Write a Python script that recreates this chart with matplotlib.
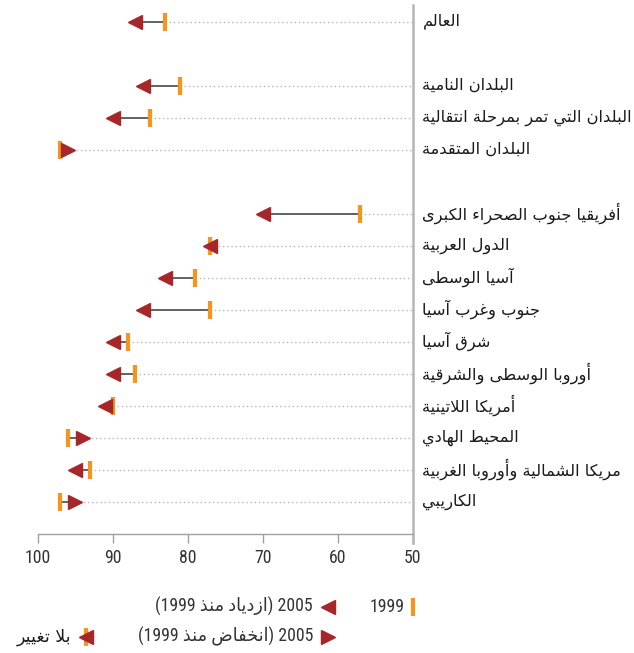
import re
import matplotlib
matplotlib.use("Agg")
import matplotlib.pyplot as plt
from matplotlib import font_manager
from matplotlib.lines import Line2D

# data: net enrolment, 1999 vs 2005
regions = ["العالم",
           "البلدان النامية", "البلدان التي تمر بمرحلة انتقالية", "البلدان المتقدمة",
           "أفريقيا جنوب الصحراء الكبرى", "الدول العربية", "آسيا الوسطى",
           "جنوب وغرب آسيا", "شرق آسيا", "أوروبا الوسطى والشرقية",
           "أمريكا اللاتينية", "المحيط الهادي", "مريكا الشمالية وأوروبا الغربية",
           "الكاريبي"]
group = [0, 1, 1, 1, 2, 2, 2, 2, 2, 2, 2, 2, 2, 2]
v1999 = [83, 81, 85, 97, 57, 77, 79, 77, 88, 87, 90, 96, 93, 97]
v2005 = [87, 86, 90, 96, 70, 77, 83, 86, 90, 90, 91, 94, 95, 95]
xticks = [100, 90, 80, 70, 60, 50]

ORANGE = "#F7931E"
RED = "#A6262A"
AR_FONT = ["DejaVu Sans"]

# the numbers are set in a narrow face; take whichever narrow one is installed
names = {f.name for f in font_manager.fontManager.ttflist}
narrow = [n for n in ["Liberation Sans Narrow", "Roboto Condensed", "DejaVu Sans Condensed"]
          if n in names]
condensed_dejavu = any(f.name == "DejaVu Sans" and f.stretch == "condensed"
                       for f in font_manager.fontManager.ttflist)
if narrow:
    NUM = dict(family=[narrow[0], "DejaVu Sans"], fontsize=12.8)
elif condensed_dejavu:
    NUM = dict(family=["DejaVu Sans"], fontstretch="condensed", fontsize=12)
else:
    NUM = dict(family=["Roboto", "DejaVu Sans"], fontsize=11.5)

# matplotlib does no Arabic shaping, so pick presentation forms by hand
_letters = "ءآأؤإئابةتثجحخدذرزسشصضطظعغفقكلمنهوىي"
_nforms = [1, 2, 2, 2, 2, 4, 2, 4, 2, 4, 4, 4, 4, 4, 2, 2, 2, 2, 4, 4,
           4, 4, 4, 4, 4, 4, 4, 4, 4, 4, 4, 4, 4, 2, 2, 4]
FORMS = {}
cp = 0xFE80
for ch, n in zip(_letters, _nforms):
    FORMS[ch] = (cp, n)
    cp += n
LAM_ALEF = {"آ": 0xFEF5, "أ": 0xFEF7, "إ": 0xFEF9, "ا": 0xFEFB}


def ar(text):
    res = []
    i, n = 0, len(text)
    while i < n:
        c = text[i]
        if c not in FORMS:
            res.append(c)
            i += 1
            continue
        prev = text[i - 1] if i > 0 else ""
        link_prev = FORMS.get(prev, (0, 1))[1] == 4 and FORMS[c][1] > 1
        if c == "ل" and i + 1 < n and text[i + 1] in LAM_ALEF:
            res.append(chr(LAM_ALEF[text[i + 1]] + int(link_prev)))
            i += 2
            continue
        nxt = text[i + 1] if i + 1 < n else ""
        base, k = FORMS[c]
        link_next = k == 4 and FORMS.get(nxt, (0, 1))[1] > 1
        if k == 1:
            f = 0
        elif k == 2:
            f = int(link_prev)
        else:
            f = [[0, 2], [1, 3]][link_prev][link_next]
        res.append(chr(base + f))
        i += 1
    s = "".join(res)[::-1]
    s = re.sub(r"[0-9A-Za-z]+", lambda m: m.group(0)[::-1], s)
    return s.translate(str.maketrans("()", ")("))


fig = plt.figure(figsize=(6.34, 6.53), dpi=100)
ax = fig.add_axes([37.7 / 634, 1 - 534 / 653, 375 / 634, 529 / 653])

ypos = [i + g for i, g in enumerate(group)]
for y, a, b, name in zip(ypos, v1999, v2005, regions):
    ax.plot([min(a, b), 50], [y, y], ls=(0, (1, 2)), color="#b5b5b5", lw=1, zorder=1)
    ax.plot([a, b], [y, y], color="#555555", lw=1.3, zorder=2)
    ax.plot(a, y, marker="|", ms=13, mew=3, color=ORANGE, zorder=3)
    ax.plot(b, y, marker="<" if b >= a else ">", ms=10, color=RED, mec=RED, zorder=4)
    ax.annotate(ar(name), xy=(1, y), xycoords=("axes fraction", "data"),
                xytext=(7, 0), textcoords="offset points", ha="left", va="center",
                fontsize=11.7, family=AR_FONT, color="#1a1a1a")

ax.set_xlim(100, 50)
ax.set_ylim(16.01, -0.52)
ax.set_yticks([])
ax.set_xticks(xticks)
ax.set_xticklabels([str(t) for t in xticks], color="#333333", **NUM)
ax.tick_params(axis="x", length=6.5, width=1, color="#a0a0a0", pad=4)
for s in ["left", "top", "right"]:
    ax.spines[s].set_visible(False)
ax.spines["bottom"].set_color("#a0a0a0")
ax.spines["bottom"].set_linewidth(1)
ax.add_line(Line2D([1, 1], [1, -9 / 529], transform=ax.transAxes, color="#b5b5b5",
                   lw=1.8, clip_on=False))

# legend drawn by hand below the plot, in pixel coordinates
lg = fig.add_axes([0, 0, 1, 1], zorder=-1)
lg.set_xlim(0, 634)
lg.set_ylim(653, 0)
lg.axis("off")
lg.plot(412.7, 606.7, marker="|", ms=13, mew=3, color=ORANGE)
lg.text(405, 606.7, "1999", ha="right", va="center", color="#333333", **NUM)
lg.plot(328, 606.7, marker="<", ms=10, color=RED)
lg.text(313, 606.7, ar("2005 (ازدياد منذ 1999)"), ha="right", va="center",
        color="#333333", **NUM)
lg.plot(328, 636.7, marker=">", ms=10, color=RED)
lg.text(313, 636.7, ar("2005 (انخفاض منذ 1999)"), ha="right", va="center",
        color="#333333", **NUM)
lg.plot(85.7, 636.7, marker="|", ms=13, mew=3, color=ORANGE)
lg.plot(86, 636.7, marker="<", ms=10, color=RED)
lg.text(71, 636.7, ar("بلا تغيير"), ha="right", va="center",
        family=AR_FONT, fontsize=12.5, color="#1a1a1a")

fig.savefig("out.png", dpi=100)
